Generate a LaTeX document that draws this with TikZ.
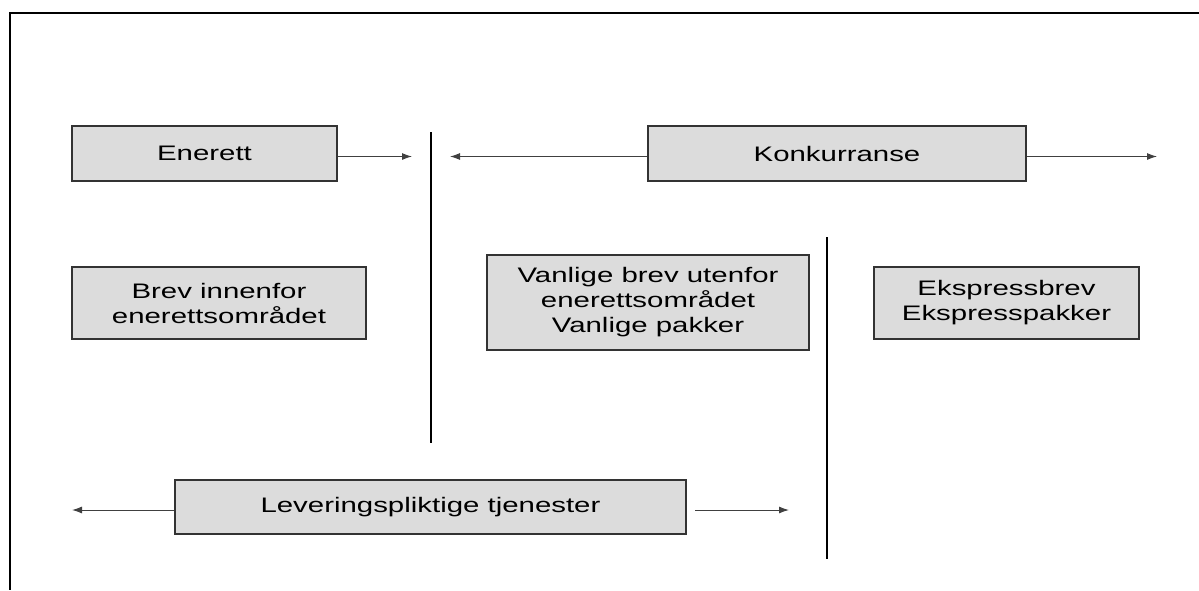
\documentclass[tikz,border=0pt]{standalone}
\usepackage{fontspec}
\setmainfont{Liberation Sans}[FakeStretch=1.4]
\usetikzlibrary{arrows.meta}
\definecolor{boxfill}{HTML}{DCDCDC}
\definecolor{boxline}{HTML}{333333}
\definecolor{arrline}{HTML}{404040}
\begin{document}
\begin{tikzpicture}[x=1pt,y=-1pt,
  box/.style={draw=boxline,line width=1.2pt,fill=boxfill,inner sep=0pt,
    font=\fontsize{21}{25}\selectfont,align=center,text=black},
  arr/.style={draw=arrline,line width=1pt,-{Latex[length=10pt,width=7pt]}},
  divider/.style={draw=black,line width=1.3pt}]
\useasboundingbox (0,0) rectangle (1199,590);
% frame
\draw[line width=2pt] (1199,13) -- (10,13) -- (10,590);
% boxes
\node[box,minimum width=265pt,minimum height=55pt] (enerett) at (204.5,153.5) {Enerett};
\node[box,minimum width=378pt,minimum height=55pt] (konk) at (837,153.5) {Konkurranse};
\node[box,minimum width=294pt,minimum height=72pt] (brev) at (219,303) {Brev innenfor\\enerettsområdet};
\node[box,minimum width=322pt,minimum height=95pt] (vanlige) at (648,302.5) {Vanlige brev utenfor\\enerettsområdet\\Vanlige pakker};
\node[box,minimum width=265pt,minimum height=72pt] (ekspress) at (1006.5,303) {Ekspressbrev\\Ekspresspakker};
\node[box,minimum width=511pt,minimum height=54pt] (lev) at (430.5,507) {Leveringspliktige tjenester};
% dividers
\coordinate (d1top) at (431,132);
\coordinate (d1bot) at (431,443);
\coordinate (d2top) at (827,237);
\coordinate (d2bot) at (827,559);
\draw[divider] (d1top) -- (d1bot);
\draw[divider] (d2top) -- (d2bot);
% arrow ends
\coordinate (e1) at (412,156.5);
\coordinate (k1) at (450,156.5);
\coordinate (k2) at (1157,156.5);
\coordinate (l1) at (72,510);
\coordinate (l2s) at (695,510);
\coordinate (l2) at (789,510);
\draw[arr] ([yshift=-3pt]enerett.east) -- (e1);
\draw[arr] ([yshift=-3pt]konk.west) -- (k1);
\draw[arr] ([yshift=-3pt]konk.east) -- (k2);
\draw[arr] ([yshift=-3pt]lev.west) -- (l1);
\draw[arr] (l2s) -- (l2);
\end{tikzpicture}
\end{document}
